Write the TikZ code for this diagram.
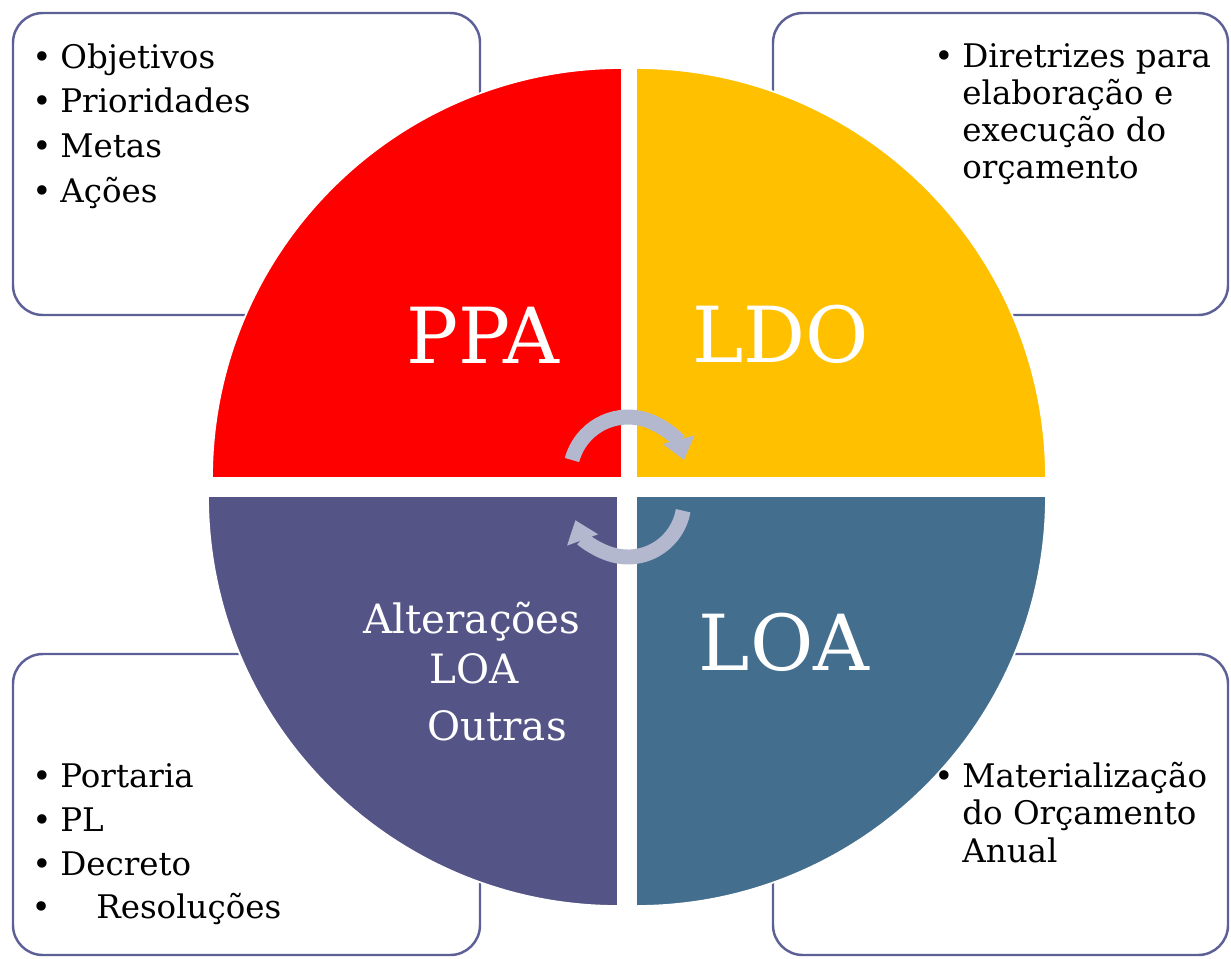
\documentclass[tikz,border=0pt]{standalone}
\usepackage{fontspec}
\setmainfont{DejaVu Serif}
\usetikzlibrary{arrows.meta}

\definecolor{ppared}{HTML}{FF0000}
\definecolor{ldoyellow}{HTML}{FFC000}
\definecolor{loablue}{HTML}{436E8E}
\definecolor{altpurple}{HTML}{545487}
\definecolor{boxline}{HTML}{5C6096}
\definecolor{arrowgray}{HTML}{B4B8CE}

\newcommand{\bul}[1][5pt]{\llap{\textbullet\hspace{#1}}}

\tikzset{
  panel/.style={draw=boxline, line width=1.4pt, rounded corners=17pt},
  quarter/.style={draw=white, line width=1pt},
  item/.style={font=\fontsize{18.5}{22}\selectfont, anchor=base west, inner sep=0pt},
  biglabel/.style={font=\fontsize{44}{52}\selectfont, text=white, anchor=base, inner sep=0pt},
  altlabel/.style={font=\fontsize{23}{27}\selectfont, text=white, anchor=base, inner sep=0pt},
  turnarrow/.style={draw=arrowgray, line width=8.5pt, -{Triangle[length=12pt,width=18pt]}}
}

\begin{document}
\begin{tikzpicture}[x=0.02cm, y=-0.02cm]
    \useasboundingbox (0,0) rectangle (1231,958);

    % corner boxes
    \draw[panel] (13,13) rectangle (480,315);
    \draw[panel] (773,13) rectangle (1228,315);
    \draw[panel] (13,654) rectangle (480,955);
    \draw[panel] (773,654) rectangle (1228,955);

    % four quarters of the disc
    \filldraw[quarter, fill=ppared] (622,478) -- ++(180:410) arc[start angle=180, end angle=270, radius=410] -- cycle;
    \filldraw[quarter, fill=ldoyellow] (636,478) -- ++(270:410) arc[start angle=270, end angle=360, radius=410] -- cycle;
    \filldraw[quarter, fill=loablue] (636,496) -- ++(0:410) arc[start angle=0, end angle=90, radius=410] -- cycle;
    \filldraw[quarter, fill=altpurple] (618,496) -- ++(90:410) arc[start angle=90, end angle=180, radius=410] -- cycle;

    % turning arrows
    \draw[turnarrow] (628,475) ++(195:58) arc[start angle=195, end angle=345, radius=58];
    \draw[turnarrow] (628,501) ++(10:56) arc[start angle=10, end angle=160, radius=56];

    % labels on the disc
    \node[biglabel] (ppa) at (483,363) {PPA};
    \node[biglabel] (ldo) at (781,362) {LDO};
    \node[biglabel] (loa) at (784,670) {LOA};
    \node[altlabel] (alt1) at (472,633) {Alterações};
    \node[altlabel] (alt2) at (474,683) {LOA};
    \node[altlabel] (alt3) at (497,740) {Outras};

    % box texts
    \foreach \txt [count=\i] in {Objetivos,Prioridades,Metas,Ações}
        \node[item] (ppaitem\i) at (60,{68+44.7*(\i-1)}) {\bul\txt};

    \node[item] (ldoitem1) at (962,67) {\bul Diretrizes para};
    \foreach \txt [count=\i from 2] in {elaboração e,execução do,orçamento}
        \node[item] (ldoitem\i) at (962,{67+37*(\i-1)}) {\txt};

    \node[item] (loaitem1) at (962,787) {\bul Materialização};
    \foreach \txt [count=\i from 2] in {do Orçamento,Anual}
        \node[item] (loaitem\i) at (962,{787+37.5*(\i-1)}) {\txt};

    \foreach \txt [count=\i] in {Portaria,PL,Decreto}
        \node[item] (altitem\i) at (60,{787+44*(\i-1)}) {\bul\txt};
    \node[item] (altitem4) at (96,918) {\bul[26pt]Resoluções};
\end{tikzpicture}
\end{document}
